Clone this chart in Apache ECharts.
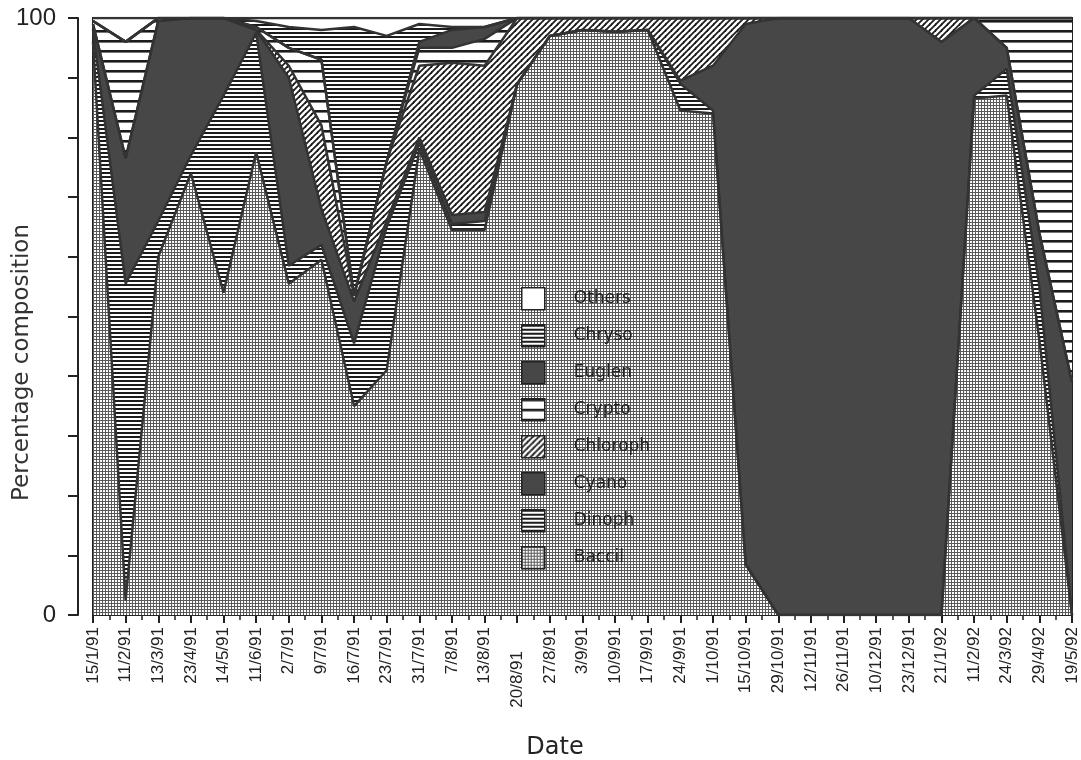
<!DOCTYPE html>
<html><head><meta charset="utf-8">
<script src="https://cdn.jsdelivr.net/npm/echarts@6/dist/echarts.min.js"></script>
<style>html,body{margin:0;padding:0;background:#fff}#c{width:1081px;height:760px}</style>
</head><body><div id="c"></div>
<script>
const dates = ['15/1/91','11/2/91','13/3/91','23/4/91','14/5/91','11/6/91','2/7/91','9/7/91','16/7/91','23/7/91','31/7/91','7/8/91','13/8/91','20/8/91','27/8/91','3/9/91','10/9/91','17/9/91','24/9/91','1/10/91','15/10/91','29/10/91','12/11/91','26/11/91','10/12/91','23/12/91','21/1/92','11/2/92','24/3/92','29/4/92','19/5/92'];
const baccil   = [96, 2.5, 60, 74, 54, 77.5, 55.5, 59.5, 35, 41, 78, 64.5, 64.5, 89, 97, 98, 97.7, 98, 84.5, 84, 8.5, 0, 0, 0, 0, 0, 0, 86.5, 87, 46, 0];
const dinoph   = [2, 53, 6, 3, 33, 20, 3, 2.5, 10.5, 24, 1, 1, 1.5, 0, 0, 0, 0, 0, 4.5, 0.5, 0, 0, 0, 0, 0, 0, 0, 0.5, 4.5, 9, 0];
const cyano    = [1, 21, 33.5, 23, 13, 0.5, 31.5, 6, 7, 1, 1, 1.5, 1.5, 0, 0, 0, 0, 0, 0.5, 7.5, 90.5, 100, 100, 100, 100, 100, 96, 13, 3.5, 9, 39];
const chloroph = [0, 0, 0, 0, 0, 0, 2, 14, 1, 10, 12, 25.5, 24.5, 11, 3, 2, 2.3, 2, 10.5, 8, 1, 0, 0, 0, 0, 0, 4, 0, 0, 0, 0];
const crypto   = [0.5, 19.5, 0.5, 0, 0, 0.5, 3, 11, 0, 0, 3, 2.5, 4.5, 0, 0, 0, 0, 0, 0, 0, 0, 0, 0, 0, 0, 0, 0, 0, 5, 36, 61];
const euglen   = [0, 0, 0, 0, 0, 0, 0, 0, 0, 0, 1, 3, 2, 0, 0, 0, 0, 0, 0, 0, 0, 0, 0, 0, 0, 0, 0, 0, 0, 0, 0];
const chryso   = [0, 0, 0, 0, 0, 1, 3.5, 5, 45, 21, 3, 0.5, 0, 0, 0, 0, 0, 0, 0, 0, 0, 0, 0, 0, 0, 0, 0, 0, 0, 0, 0];
const others   = [0.5, 4, 0, 0, 0, 0.5, 1.5, 2, 1.5, 3, 1, 1.5, 1.5, 0, 0, 0, 0, 0, 0, 0, 0, 0, 0, 0, 0, 0, 0, 0, 0, 0, 0];
const seriesNames = ['Baccil','Dinoph','Cyano','Chloroph','Crypto','Euglen','Chryso','Others'];
const legendOrder = ['Others','Chryso','Euglen','Crypto','Chloroph','Cyano','Dinoph','Baccil'];

function pat(w, h, draw) {
  const c = document.createElement('canvas'); c.width = w; c.height = h;
  const g = c.getContext('2d'); g.fillStyle = '#fff'; g.fillRect(0, 0, w, h); draw(g, w, h);
  return { image: c, repeat: 'repeat' };
}
const INK = '#1c1c1c';
const pGrid = pat(3, 3, g => { g.fillStyle = '#5a5a5a'; g.fillRect(0, 0, 3, 1); g.fillRect(0, 0, 1, 3); });
const pDense = pat(4, 4, g => { g.fillStyle = INK; g.fillRect(0, 0, 4, 2); });
const pWide = pat(10, 10, g => { g.fillStyle = INK; g.fillRect(0, 0, 10, 2); g.fillStyle = '#777'; g.fillRect(0, 2, 10, 1); });
const pHatch = pat(6, 6, g => {
  g.strokeStyle = INK; g.lineWidth = 1.8;
  [[-6, 6, 0, 0], [0, 6, 6, 0], [0, 12, 12, 0], [-3,3,3,-3],[3,9,9,3]].forEach(s => { g.beginPath(); g.moveTo(s[0], s[1]); g.lineTo(s[2], s[3]); g.stroke(); });
});
const DARK = '#474747';
const fills = { Baccil: pGrid, Dinoph: pDense, Cyano: DARK, Chloroph: pHatch, Crypto: pWide, Euglen: DARK, Chryso: pDense, Others: '#ffffff' };
const values = { Baccil: baccil, Dinoph: dinoph, Cyano: cyano, Chloroph: chloroph, Crypto: crypto, Euglen: euglen, Chryso: chryso, Others: others };

const FONT = 'Liberation Sans';
const chart = echarts.init(document.getElementById('c'), null, { renderer: 'canvas' });
chart.setOption({
  animation: false,
  backgroundColor: '#fff',
  grid: { left: 93, right: 9, top: 18, bottom: 145, outerBoundsMode: 'none', containLabel: false, show: true, borderColor: '#222', borderWidth: 2, backgroundColor: 'transparent' },
  legend: {
    orient: 'vertical', left: 516, top: 282, itemWidth: 23, itemHeight: 22, itemGap: 13.5, icon: 'rect', selectedMode: false,
    textStyle: { fontFamily: 'DejaVu Sans', fontSize: 17, color: '#222', padding: [0, 0, 0, 24] },
    data: legendOrder.map(n => ({ name: n, itemStyle: { color: fills[n], borderColor: '#222', borderWidth: 1.5 } }))
  },
  xAxis: [{
    type: 'category', data: dates, boundaryGap: false,
    name: 'Date', nameLocation: 'middle', nameGap: 121, nameMoveOverlap: false,
    nameTextStyle: { fontFamily: 'DejaVu Sans', fontSize: 24, color: '#222', padding: [0, 55, 0, 0] },
    axisLine: { show: true, onZero: false, lineStyle: { color: '#222', width: 2 } },
    axisTick: { show: true, length: 8, interval: 0, lineStyle: { color: '#222', width: 2 } },
    splitLine: { show: false },
    axisLabel: {
      rotate: 90, margin: 12, interval: 0, fontFamily: FONT, fontSize: 17, color: '#222',
      formatter: v => v === '20/8/91' ? '{low|' + v + '}' : v,
      rich: { low: { fontFamily: FONT, fontSize: 17, color: '#222', padding: [0, 24, 0, 0] } }
    }
  }, {
    type: 'value', min: 0, max: dates.length - 1, interval: 0.5, position: 'bottom',
    axisLine: { show: false, onZero: false }, axisLabel: { show: false }, splitLine: { show: false },
    axisTick: { show: true, length: 5, lineStyle: { color: '#222', width: 1.5 } }
  }],
  yAxis: {
    type: 'value', min: 0, max: 100, interval: 10, offset: 15,
    name: 'Percentage composition', nameLocation: 'middle', nameGap: 44, nameMoveOverlap: false,
    nameTextStyle: { fontFamily: 'DejaVu Sans', fontSize: 23, color: '#333', padding: [0, 92, 0, 0] },
    axisLine: { show: true, onZero: false, lineStyle: { color: '#222', width: 2 } },
    axisTick: { show: true, length: 10, lineStyle: { color: '#222', width: 2 } },
    splitLine: { show: false },
    axisLabel: { margin: 22, fontFamily: FONT, fontSize: 24, color: '#222', formatter: v => (v === 0 || v === 100) ? String(v) : '' }
  },
  series: seriesNames.map(n => ({
    name: n, type: 'line', stack: 'total', symbol: 'none', showSymbol: false, silent: true,
    xAxisIndex: 0, yAxisIndex: 0,
    data: values[n],
    lineStyle: { color: '#333', width: 2.5 },
    itemStyle: { color: '#333' },
    areaStyle: { color: fills[n], opacity: 1 },
    emphasis: { disabled: true }
  }))
});
</script></body></html>
